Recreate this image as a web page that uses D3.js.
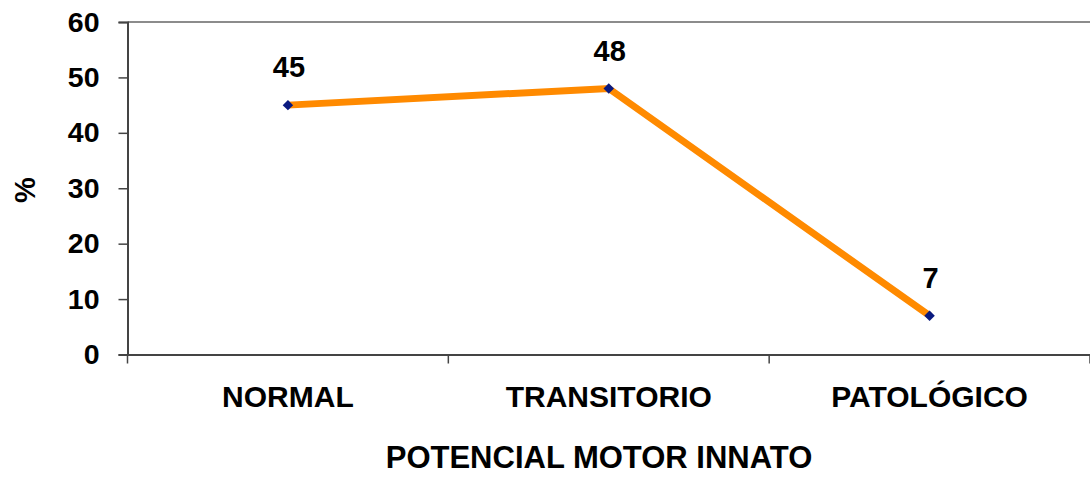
<!DOCTYPE html>
<html><head><meta charset="utf-8">
<script src="https://cdn.jsdelivr.net/npm/d3@7"></script>
<style>body{margin:0;background:#fff}svg{display:block}text{font-family:"Liberation Sans",Arial,sans-serif;font-weight:bold;fill:#000}</style>
</head><body><svg id="c" width="1090" height="478"></svg>
<script>
const categories = ["NORMAL", "TRANSITORIO", "PATOLÓGICO"];
const values = [45, 48, 7];
const yTicks = [0, 10, 20, 30, 40, 50, 60];
const yLabel = "%";
const xLabel = "POTENCIAL MOTOR INNATO";

const svg = d3.select("#c");
const L = 127.5, R = 1090, T = 22, B = 354.5;
const x = d3.scaleBand().domain(categories).range([L, R]);
const y = d3.scaleLinear().domain([0, 60]).range([B, T]);

// top border
svg.append("line").attr("x1", L).attr("x2", R).attr("y1", T).attr("y2", T)
  .attr("stroke", "#8c8c8c").attr("stroke-width", 2);

// y axis
const ya = svg.append("g").attr("transform", `translate(${L},0)`)
  .call(d3.axisLeft(y).tickValues(yTicks).tickSize(9).tickPadding(19));
ya.select(".domain").attr("stroke", "#444").attr("stroke-width", 2);
ya.selectAll(".tick line").attr("stroke", "#444").attr("stroke-width", 1.5);
ya.selectAll("text").attr("font-size", 28.5).attr("font-family", "Liberation Sans, Arial").attr("font-weight", "bold").attr("fill", "#000");

// x axis
const xa = svg.append("g").attr("transform", `translate(0,${B})`)
  .call(d3.axisBottom(x).tickSize(0).tickPadding(31));
xa.select(".domain").attr("stroke", "#444").attr("stroke-width", 2);
xa.selectAll("text").attr("font-size", 30).attr("font-family", "Liberation Sans, Arial").attr("font-weight", "bold").attr("fill", "#000");
// boundary ticks
const bounds = categories.map(c => x(c)).concat([R]);
svg.append("g").selectAll("line").data(bounds).join("line")
  .attr("x1", d => d).attr("x2", d => d).attr("y1", B).attr("y2", B + 9)
  .attr("stroke", "#444").attr("stroke-width", 1.5);

const cx = c => x(c) + x.bandwidth() / 2;
const data = categories.map((c, i) => ({c, v: values[i]}));

svg.append("path").datum(data)
  .attr("d", d3.line().x(d => cx(d.c)).y(d => y(d.v)))
  .attr("fill", "none").attr("stroke", "#ff8a00").attr("stroke-width", 7);

svg.append("g").selectAll("path").data(data).join("path")
  .attr("d", d3.symbol(d3.symbolDiamond2, 70)())
  .attr("transform", d => `translate(${cx(d.c)},${y(d.v)})`)
  .attr("fill", "#0a1a80");

svg.append("g").selectAll("text").data(data).join("text")
  .attr("x", d => cx(d.c) + 1).attr("y", d => y(d.v) - 28)
  .attr("text-anchor", "middle").attr("font-size", 29)
  .text(d => d.v);

svg.append("text").attr("transform", `translate(35,190) rotate(-90)`)
  .attr("text-anchor", "middle").attr("font-size", 29).text(yLabel);

svg.append("text").attr("x", 599).attr("y", 468)
  .attr("text-anchor", "middle").attr("font-size", 31).text(xLabel);
</script></body></html>
